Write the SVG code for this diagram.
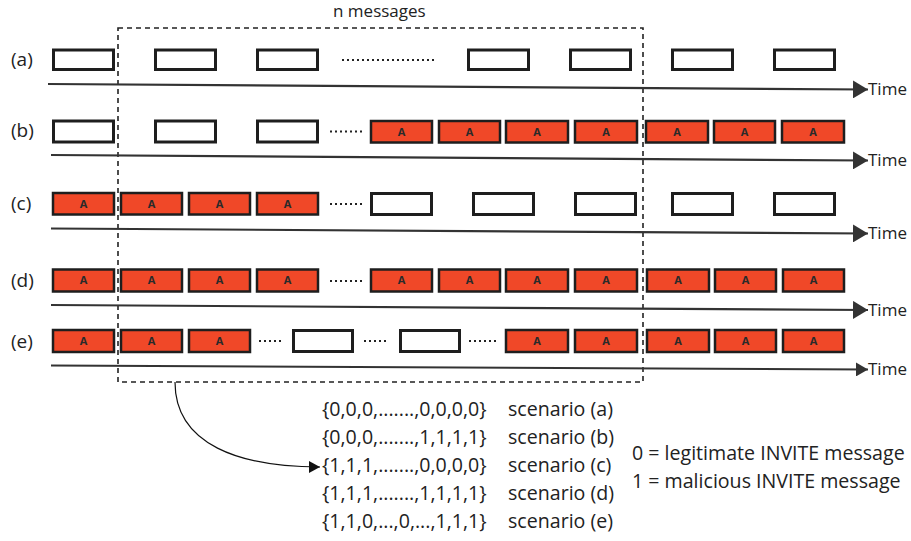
<svg xmlns="http://www.w3.org/2000/svg" width="911" height="541" viewBox="0 0 911 541">
<style>
.w{fill:#ffffff;stroke:#1e1e1e;stroke-width:3}
.r{fill:#f04828;stroke:#1e1e1e;stroke-width:2.5}
.a{font-family:"Open Sans","DejaVu Sans",sans-serif;font-weight:bold;font-size:11px;fill:#2a2a2a;text-anchor:middle}
.t{font-family:"Open Sans","DejaVu Sans",sans-serif;fill:#222}
.lab{font-size:19px}
.tm{font-size:17px}
.bt{font-size:19.6px}
.dots{stroke:#222;stroke-width:2;stroke-dasharray:2 3;fill:none}
.tl{stroke:#333;stroke-width:2.2;fill:none}
</style>
<defs>
<marker id="ah" markerUnits="userSpaceOnUse" markerWidth="16" markerHeight="18" refX="15" refY="9" orient="auto">
<path d="M0,0 L15,9 L0,18 z" fill="#333"/>
</marker>
<marker id="ah2" markerUnits="userSpaceOnUse" markerWidth="13" markerHeight="14" refX="12" refY="7" orient="auto">
<path d="M0,0 L12,7 L0,14 z" fill="#333"/>
</marker>
<marker id="ah3" markerUnits="userSpaceOnUse" markerWidth="12" markerHeight="12" refX="11" refY="6" orient="auto">
<path d="M0,0 L11,6 L0,12 z" fill="#111"/>
</marker>
</defs>

<g id="labels" class="t lab">
<text x="11" y="66">(a)</text>
<text x="11" y="137">(b)</text>
<text x="11" y="210">(c)</text>
<text x="11" y="287">(d)</text>
<text x="11" y="348">(e)</text>
</g>

<g id="window">
<rect x="118" y="28" width="525" height="354" fill="none" stroke="#222" stroke-width="1.6" stroke-dasharray="5 4"/>
<text class="t tm" x="333" y="17">n messages</text>
</g>

<g id="connectors">
<path class="tl" d="M48,84 L868,89.5" marker-end="url(#ah)"/>
<path class="tl" d="M51,155 L868,160.5" marker-end="url(#ah)"/>
<path class="tl" d="M51,228.5 L868,233.5" marker-end="url(#ah)"/>
<path class="tl" d="M51,305 L868,310" marker-end="url(#ah)"/>
<path class="tl" d="M51,365.5 L868,369.5" stroke-width="1.4" marker-end="url(#ah2)"/>
<path d="M175,382 C175,445 240,467 320,467" fill="none" stroke="#111" stroke-width="1.2" marker-end="url(#ah3)"/>
</g>

<g id="timelabels" class="t tm">
<text x="868" y="95">Time</text>
<text x="868" y="166">Time</text>
<text x="868" y="239">Time</text>
<text x="868" y="316">Time</text>
<text x="868" y="375">Time</text>
</g>

<g id="row-a">
<rect class="w" x="53.5" y="50" width="60" height="19.5"/>
<rect class="w" x="155.5" y="50" width="60" height="19.5"/>
<rect class="w" x="257.5" y="50" width="60" height="19.5"/>
<line class="dots" x1="342" y1="60" x2="436" y2="60"/>
<rect class="w" x="468.5" y="50" width="60" height="19.5"/>
<rect class="w" x="570.5" y="50" width="60" height="19.5"/>
<rect class="w" x="672.5" y="50" width="60" height="19.5"/>
<rect class="w" x="774.5" y="50" width="60" height="19.5"/>
</g>

<g id="row-b">
<rect class="w" x="53.5" y="121" width="60" height="21"/>
<rect class="w" x="155.5" y="121" width="60" height="21"/>
<rect class="w" x="257.5" y="121" width="60" height="21"/>
<line class="dots" x1="330" y1="131.5" x2="363" y2="131.5"/>
<g id="b1"><rect class="r" x="371" y="121" width="61" height="21.5"/><text class="a" x="401.5" y="135.5">A</text></g>
<g id="b2"><rect class="r" x="439" y="121" width="61" height="21.5"/><text class="a" x="469.5" y="135.5">A</text></g>
<g id="b3"><rect class="r" x="506" y="121" width="62" height="21.5"/><text class="a" x="537" y="135.5">A</text></g>
<g id="b4"><rect class="r" x="575" y="121" width="62" height="21.5"/><text class="a" x="606" y="135.5">A</text></g>
<g id="b5"><rect class="r" x="646" y="121" width="62" height="21.5"/><text class="a" x="677" y="135.5">A</text></g>
<g id="b6"><rect class="r" x="714" y="121" width="61" height="21.5"/><text class="a" x="744.5" y="135.5">A</text></g>
<g id="b7"><rect class="r" x="782" y="121" width="62" height="21.5"/><text class="a" x="813" y="135.5">A</text></g>
</g>

<g id="row-c">
<g id="c1"><rect class="r" x="53" y="193" width="61" height="21.5"/><text class="a" x="83.5" y="207.5">A</text></g>
<g id="c2"><rect class="r" x="121" y="193" width="61" height="21.5"/><text class="a" x="151.5" y="207.5">A</text></g>
<g id="c3"><rect class="r" x="189" y="193" width="61" height="21.5"/><text class="a" x="219.5" y="207.5">A</text></g>
<g id="c4"><rect class="r" x="257" y="193" width="61" height="21.5"/><text class="a" x="287.5" y="207.5">A</text></g>
<line class="dots" x1="330" y1="204" x2="363" y2="204"/>
<rect class="w" x="371.5" y="193.5" width="60" height="21"/>
<rect class="w" x="473.5" y="193.5" width="60" height="21"/>
<rect class="w" x="575.5" y="193.5" width="60" height="21"/>
<rect class="w" x="672.5" y="193.5" width="60" height="21"/>
<rect class="w" x="774.5" y="193.5" width="60" height="21"/>
</g>

<g id="row-d">
<g id="d1"><rect class="r" x="53" y="269.5" width="61" height="22"/><text class="a" x="83.5" y="284">A</text></g>
<g id="d2"><rect class="r" x="121" y="269.5" width="61" height="22"/><text class="a" x="151.5" y="284">A</text></g>
<g id="d3"><rect class="r" x="189" y="269.5" width="61" height="22"/><text class="a" x="219.5" y="284">A</text></g>
<g id="d4"><rect class="r" x="257" y="269.5" width="61" height="22"/><text class="a" x="287.5" y="284">A</text></g>
<line class="dots" x1="330" y1="281" x2="363" y2="281"/>
<g id="d5"><rect class="r" x="371" y="269.5" width="61" height="22"/><text class="a" x="401.5" y="284">A</text></g>
<g id="d6"><rect class="r" x="439" y="269.5" width="61" height="22"/><text class="a" x="469.5" y="284">A</text></g>
<g id="d7"><rect class="r" x="506" y="269.5" width="62" height="22"/><text class="a" x="537" y="284">A</text></g>
<g id="d8"><rect class="r" x="575" y="269.5" width="62" height="22"/><text class="a" x="606" y="284">A</text></g>
<g id="d9"><rect class="r" x="647" y="269.5" width="62" height="22"/><text class="a" x="678" y="284">A</text></g>
<g id="d10"><rect class="r" x="715" y="269.5" width="61" height="22"/><text class="a" x="745.5" y="284">A</text></g>
<g id="d11"><rect class="r" x="783" y="269.5" width="61" height="22"/><text class="a" x="813.5" y="284">A</text></g>
</g>

<g id="row-e">
<g id="e1"><rect class="r" x="53" y="330" width="61" height="22"/><text class="a" x="83.5" y="344.5">A</text></g>
<g id="e2"><rect class="r" x="121" y="330" width="61" height="22"/><text class="a" x="151.5" y="344.5">A</text></g>
<g id="e3"><rect class="r" x="189" y="330" width="61" height="22"/><text class="a" x="219.5" y="344.5">A</text></g>
<line class="dots" x1="259" y1="341" x2="282" y2="341"/>
<rect class="w" x="293.5" y="330.5" width="59" height="21"/>
<line class="dots" x1="364" y1="341" x2="387" y2="341"/>
<rect class="w" x="400.5" y="330.5" width="59" height="21"/>
<line class="dots" x1="469" y1="341" x2="497" y2="341"/>
<g id="e4"><rect class="r" x="506" y="330" width="62" height="22"/><text class="a" x="537" y="344.5">A</text></g>
<g id="e5"><rect class="r" x="575" y="330" width="62" height="22"/><text class="a" x="606" y="344.5">A</text></g>
<g id="e6"><rect class="r" x="647" y="330" width="62" height="22"/><text class="a" x="678" y="344.5">A</text></g>
<g id="e7"><rect class="r" x="715" y="330" width="61" height="22"/><text class="a" x="745.5" y="344.5">A</text></g>
<g id="e8"><rect class="r" x="783" y="330" width="61" height="22"/><text class="a" x="813.5" y="344.5">A</text></g>
</g>

<g id="vectors" class="t bt">
<text x="322" y="416">{0,0,0,.......,0,0,0,0}</text>
<text x="322" y="444">{0,0,0,.......,1,1,1,1}</text>
<text x="322" y="472">{1,1,1,.......,0,0,0,0}</text>
<text x="322" y="500">{1,1,1,.......,1,1,1,1}</text>
<text x="322" y="528">{1,1,0,...,0,...,1,1,1}</text>
<text x="508" y="416">scenario (a)</text>
<text x="508" y="444">scenario (b)</text>
<text x="508" y="472">scenario (c)</text>
<text x="508" y="500">scenario (d)</text>
<text x="508" y="528">scenario (e)</text>
</g>

<g id="legend" class="t bt">
<text x="632" y="460">0 = legitimate INVITE message</text>
<text x="632" y="488">1 = malicious INVITE message</text>
</g>
</svg>
